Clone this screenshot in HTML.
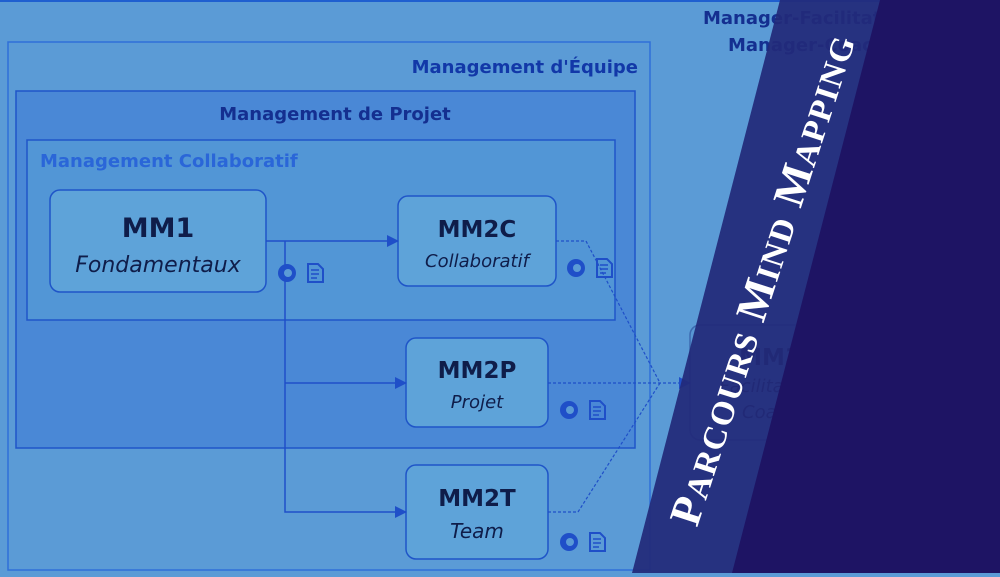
<!DOCTYPE html>
<html><head><meta charset="utf-8"><style>
body{margin:0;width:1000px;height:573px;overflow:hidden;background:#5b9bd6;font-family:"DejaVu Sans","Liberation Sans",sans-serif}
</style></head><body>
<svg width="1000" height="573" viewBox="0 0 1000 573" xmlns="http://www.w3.org/2000/svg">
<defs><marker id="a" markerWidth="12" markerHeight="12" refX="11" refY="6" orient="auto" markerUnits="userSpaceOnUse"><path d="M0,0L12,6L0,12z" fill="#1f4fc8"/></marker>
<g id="ic"><circle cx="0" cy="0" r="9" fill="#1f4fc8"/><circle cx="1" cy="0" r="4" fill="#5b9bd6"/><path d="M21,-9h10l5,5v13h-15z" fill="none" stroke="#1f4fc8" stroke-width="2"/><path d="M24,-3h8M24,1h8M24,5h6" stroke="#1f4fc8" stroke-width="1.5"/></g></defs>
<rect width="1000" height="573" fill="#5b9bd6"/>
<line x1="0" y1="1" x2="1000" y2="1" stroke="#1f5fd0" stroke-width="2"/>
<rect x="8" y="42" width="642" height="528" fill="none" stroke="#2f6fd8" stroke-width="1.5"/>
<rect x="16" y="91" width="619" height="357" fill="#4a88d6" stroke="#1f55c8" stroke-width="1.5"/>
<rect x="27" y="140" width="588" height="180" fill="#5296d6" stroke="#1f55c8" stroke-width="1.5"/>
<text x="638" y="73" text-anchor="end" font-size="18" font-weight="bold" fill="#1238a8">Management d'Équipe</text>
<text x="335" y="120" text-anchor="middle" font-size="18" font-weight="bold" fill="#142f90">Management de Projet</text>
<text x="40" y="167" font-size="18" font-weight="bold" fill="#2a66d8">Management Collaboratif</text>
<text x="703" y="24" font-size="18" font-weight="bold" fill="#142f90">Manager-Facilitateur</text>
<text x="728" y="51" font-size="18" font-weight="bold" fill="#142f90">Manager-Coach</text>
<g stroke="#1f55c8" stroke-width="1.5" fill="#5ea3d9">
<rect x="50" y="190" width="216" height="102" rx="10"/>
<rect x="398" y="196" width="158" height="90" rx="10"/>
<rect x="406" y="338" width="142" height="89" rx="10"/>
<rect x="406" y="465" width="142" height="94" rx="10"/>
<rect x="690" y="325" width="160" height="115" rx="10" fill="#5896d4" stroke="#3c6ab0"/>
</g>
<g fill="#0f1d4a" text-anchor="middle">
<text x="158" y="237" font-size="27" font-weight="bold">MM1</text>
<text x="158" y="272" font-size="22" font-style="italic">Fondamentaux</text>
<text x="477" y="237" font-size="23" font-weight="bold">MM2C</text>
<text x="477" y="267" font-size="18" font-style="italic">Collaboratif</text>
<text x="477" y="378" font-size="23" font-weight="bold">MM2P</text>
<text x="477" y="408" font-size="18" font-style="italic">Projet</text>
<text x="477" y="506" font-size="23" font-weight="bold">MM2T</text>
<text x="477" y="538" font-size="20" font-style="italic">Team</text>
<text x="770" y="365" font-size="23" font-weight="bold">MM3</text>
<text x="770" y="392" font-size="18" font-style="italic">Facilitateur</text>
<text x="770" y="418" font-size="18" font-style="italic">Coach</text>
</g>
<g stroke="#1f4fc8" stroke-width="1.5" fill="none">
<path d="M266,241H398" marker-end="url(#a)"/>
<path d="M285,241V512H406" marker-end="url(#a)"/>
<path d="M285,383H406" marker-end="url(#a)"/>
<g stroke-dasharray="3,2" stroke-width="1.2">
<path d="M556,241H586L660,383"/>
<path d="M548,383H690" marker-end="url(#a)"/>
<path d="M548,512H578L660,383"/>
</g></g>
<use href="#ic" x="287" y="273"/>
<use href="#ic" x="576" y="268"/>
<use href="#ic" x="569" y="410"/>
<use href="#ic" x="569" y="542"/>
<polygon points="780,0 1000,0 1000,573 632,573" fill="#222a7a" fill-opacity="0.93"/>
<polygon points="880,0 1000,0 1000,573 732,573" fill="#1e1464"/>
<text transform="translate(697,528) rotate(-72)" font-family="Liberation Serif,serif" font-weight="bold" font-size="44" fill="#fff" letter-spacing="1.5">P<tspan font-size="33">ARCOURS</tspan> M<tspan font-size="33">IND</tspan> M<tspan font-size="33">APPING</tspan></text>
</svg>
</body></html>
